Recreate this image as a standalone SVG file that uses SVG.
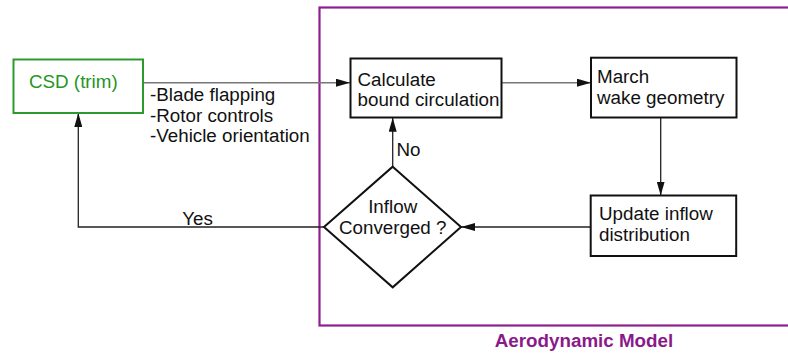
<svg xmlns="http://www.w3.org/2000/svg" width="788" height="354" viewBox="0 0 788 354">
<defs>
<style>
.box{fill:#fff;stroke:#111;stroke-width:2}
.t{font-family:"Liberation Sans",Arial,sans-serif;font-size:18.8px;fill:#111}
.c{stroke:#222;stroke-width:1.3;fill:none}
.g{stroke:#777;stroke-width:1.6;fill:none}
</style>
<marker id="ah" viewBox="0 0 14 8" refX="14" refY="4" markerWidth="14" markerHeight="8" markerUnits="userSpaceOnUse" orient="auto">
<path d="M0,0 L14,4 L0,8 Z" fill="#111"/>
</marker>
</defs>
<g id="aero-model">
<rect x="319.5" y="7.5" width="480" height="318" fill="none" stroke="#8e1f8e" stroke-width="2.2"/>
<text x="584" y="347" text-anchor="middle" font-family="'Liberation Sans',Arial,sans-serif" font-size="18.8" font-weight="bold" fill="#8a1a8a">Aerodynamic Model</text>
</g>
<g id="connectors">
<path class="g" d="M143,82.7 H350" marker-end="url(#ah)"/>
<path class="g" d="M501.5,82.7 H591" marker-end="url(#ah)"/>
<path class="c" d="M660.7,117.5 V195.5" marker-end="url(#ah)"/>
<path class="c" d="M590.7,227 H461" marker-end="url(#ah)"/>
<path class="c" d="M392.7,166.7 V117.7" marker-end="url(#ah)"/>
<path class="c" d="M324,227 H78.3 V113" marker-end="url(#ah)"/>
<text class="t" x="150" y="100.5">-Blade flapping</text>
<text class="t" x="150" y="121.5">-Rotor controls</text>
<text class="t" x="150" y="142">-Vehicle orientation</text>
<text class="t" x="396.5" y="155.5">No</text>
<text class="t" x="197.5" y="224.5" text-anchor="middle">Yes</text>
</g>
<g id="csd">
<rect x="13.5" y="59.5" width="129.5" height="53.5" fill="#fff" stroke="#2e9a2e" stroke-width="2"/>
<text x="29" y="87.5" font-family="'Liberation Sans',Arial,sans-serif" font-size="18.8" fill="#239623">CSD (trim)</text>
</g>
<g id="calc">
<rect class="box" x="350.5" y="58.5" width="151" height="59"/>
<text class="t" x="357.5" y="85.5">Calculate</text>
<text class="t" x="357.5" y="105.5">bound circulation</text>
</g>
<g id="march">
<rect class="box" x="591" y="57.7" width="145.5" height="59.8"/>
<text class="t" x="597" y="83">March</text>
<text class="t" x="597" y="103.5">wake geometry</text>
</g>
<g id="update">
<rect class="box" x="590.7" y="195.5" width="145.5" height="60.5"/>
<text class="t" x="599" y="220">Update inflow</text>
<text class="t" x="599" y="241">distribution</text>
</g>
<g id="converged">
<polygon class="box" points="392.7,166.7 461,227 392.7,287.3 324,227"/>
<text class="t" x="392.7" y="213" text-anchor="middle">Inflow</text>
<text class="t" x="392.7" y="233.5" text-anchor="middle">Converged ?</text>
</g>
</svg>
